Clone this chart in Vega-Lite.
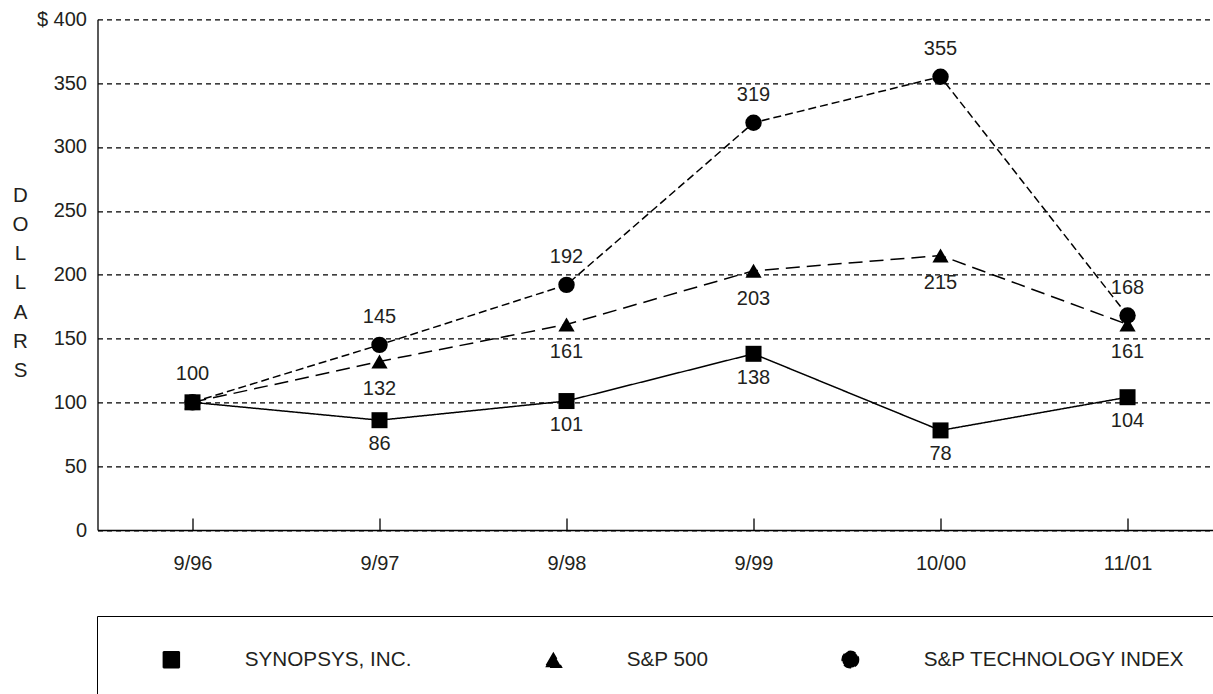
{
  "$schema": "https://vega.github.io/schema/vega-lite/v6.json",
  "width": 1115.5,
  "height": 510.7,
  "autosize": {"type": "none"},
  "padding": {"left": 97.5, "top": 19.3, "right": 0, "bottom": 164},
  "background": "white",
  "config": {
    "font": "Liberation Sans",
    "view": {"stroke": null},
    "axis": {"labelFont": "Liberation Sans", "labelFontSize": 20, "labelColor": "#231f20", "titleFont": "Liberation Sans"}
  },
  "data": {
    "values": [
      {"period": "9/96", "i": 0, "series": "SYNOPSYS, INC.", "value": 100},
      {"period": "9/97", "i": 1, "series": "SYNOPSYS, INC.", "value": 86},
      {"period": "9/98", "i": 2, "series": "SYNOPSYS, INC.", "value": 101},
      {"period": "9/99", "i": 3, "series": "SYNOPSYS, INC.", "value": 138},
      {"period": "10/00", "i": 4, "series": "SYNOPSYS, INC.", "value": 78},
      {"period": "11/01", "i": 5, "series": "SYNOPSYS, INC.", "value": 104},
      {"period": "9/96", "i": 0, "series": "S&P 500", "value": 100},
      {"period": "9/97", "i": 1, "series": "S&P 500", "value": 132},
      {"period": "9/98", "i": 2, "series": "S&P 500", "value": 161},
      {"period": "9/99", "i": 3, "series": "S&P 500", "value": 203},
      {"period": "10/00", "i": 4, "series": "S&P 500", "value": 215},
      {"period": "11/01", "i": 5, "series": "S&P 500", "value": 161},
      {"period": "9/96", "i": 0, "series": "S&P TECHNOLOGY INDEX", "value": 100},
      {"period": "9/97", "i": 1, "series": "S&P TECHNOLOGY INDEX", "value": 145},
      {"period": "9/98", "i": 2, "series": "S&P TECHNOLOGY INDEX", "value": 192},
      {"period": "9/99", "i": 3, "series": "S&P TECHNOLOGY INDEX", "value": 319},
      {"period": "10/00", "i": 4, "series": "S&P TECHNOLOGY INDEX", "value": 355},
      {"period": "11/01", "i": 5, "series": "S&P TECHNOLOGY INDEX", "value": 168}
    ]
  },
  "encoding": {
    "x": {
      "field": "i",
      "type": "quantitative",
      "scale": {"domain": [-0.508, 5.457], "nice": false, "zero": false},
      "axis": {
        "values": [0, 1, 2, 3, 4, 5],
        "labelExpr": "['9/96','9/97','9/98','9/99','10/00','11/01'][datum.value]",
        "grid": false,
        "domainColor": "black",
        "domainWidth": 1.3,
        "tickColor": "black",
        "tickSize": -12,
        "tickWidth": 1.3,
        "labelPadding": 45,
        "labelBaseline": "middle",
        "labelFlush": false,
        "title": null
      }
    },
    "y": {
      "field": "value",
      "type": "quantitative",
      "scale": {"domain": [0, 400], "nice": false},
      "axis": {
        "values": [0, 50, 100, 150, 200, 250, 300, 350, 400],
        "labelExpr": "datum.value == 400 ? '$ 400' : datum.label",
        "grid": true,
        "gridColor": "black",
        "gridDash": [5, 4],
        "gridWidth": 1.3,
        "domainColor": "black",
        "domainWidth": 1.3,
        "ticks": false,
        "labelPadding": 11,
        "title": ["D", "O", "L", "L", "A", "R", "S"],
        "titleAngle": 0,
        "titleX": -77.5,
        "titleY": 176,
        "titleBaseline": "middle",
        "titleAlign": "center",
        "titleLineHeight": 29.2,
        "titleFontSize": 20.5,
        "titleFontWeight": "normal",
        "titleColor": "#231f20"
      }
    }
  },
  "layer": [
    {
      "mark": {"type": "line", "color": "black", "strokeWidth": 1.5},
      "encoding": {
        "strokeDash": {
          "field": "series",
          "type": "nominal",
          "scale": {"domain": ["SYNOPSYS, INC.", "S&P 500", "S&P TECHNOLOGY INDEX"], "range": [[1, 0], [14, 7], [8, 4]]},
          "legend": {
            "orient": "none",
            "legendX": -0.5,
            "legendY": 596.7,
            "direction": "horizontal",
            "title": null,
            "strokeColor": "black",
            "padding": 33,
            "symbolSize": 256,
            "symbolOffset": 31,
            "symbolStrokeWidth": 1.5,
            "symbolStrokeColor": "black",
            "symbolFillColor": "black",
            "labelFontSize": 20.7,
            "labelColor": "#231f20",
            "labelFont": "Liberation Sans",
            "labelOffset": 63,
            "labelLimit": 400,
            "columnPadding": 100
          }
        }
      }
    },
    {
      "mark": {"type": "point", "filled": true, "color": "black", "opacity": 1},
      "encoding": {
        "shape": {
          "field": "series",
          "type": "nominal",
          "scale": {"domain": ["SYNOPSYS, INC.", "S&P 500", "S&P TECHNOLOGY INDEX"], "range": ["square", "triangle-up", "circle"]},
          "legend": null
        },
        "size": {
          "field": "series",
          "type": "nominal",
          "scale": {"domain": ["SYNOPSYS, INC.", "S&P 500", "S&P TECHNOLOGY INDEX"], "range": [256, 270, 225]},
          "legend": null
        }
      }
    },
    {
      "transform": [{"filter": "datum.series === 'SYNOPSYS, INC.' && datum.i > 0"}],
      "mark": {"type": "text", "fontSize": 20, "color": "#231f20", "dy": 24, "align": "center", "baseline": "middle", "font": "Liberation Sans"},
      "encoding": {"text": {"field": "value", "type": "quantitative"}}
    },
    {
      "transform": [{"filter": "datum.series === 'S&P 500' && datum.i > 0"}],
      "mark": {"type": "text", "fontSize": 20, "color": "#231f20", "dy": 28, "align": "center", "baseline": "middle", "font": "Liberation Sans"},
      "encoding": {"text": {"field": "value", "type": "quantitative"}}
    },
    {
      "transform": [{"filter": "datum.series === 'S&P TECHNOLOGY INDEX'"}],
      "mark": {"type": "text", "fontSize": 20, "color": "#231f20", "dy": -28, "align": "center", "baseline": "middle", "font": "Liberation Sans"},
      "encoding": {"text": {"field": "value", "type": "quantitative"}}
    }
  ]
}
